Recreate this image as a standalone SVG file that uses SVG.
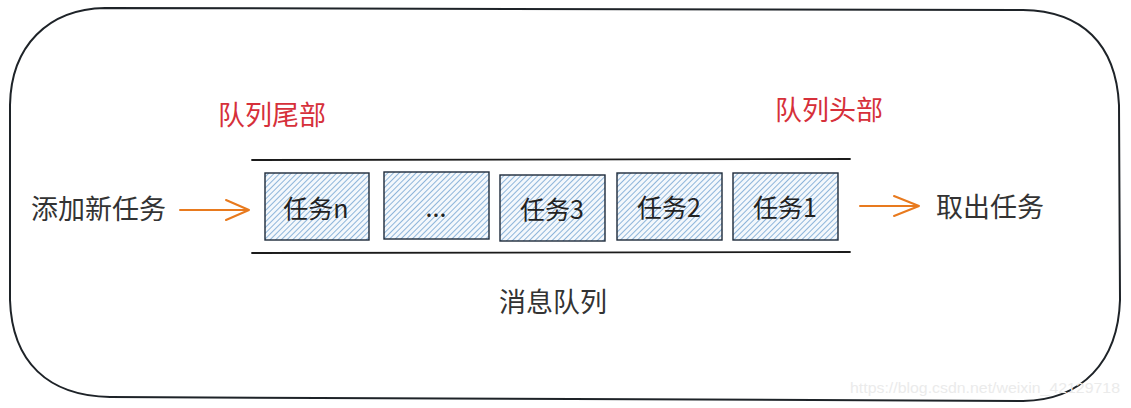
<svg xmlns="http://www.w3.org/2000/svg" width="1131" height="408" viewBox="0 0 1131 408">
  <style>
    .lbl { font-family: "Noto Sans CJK SC", "Noto Sans", sans-serif; fill: #333333; }
    .red { font-family: "Noto Sans CJK SC", "Noto Sans", sans-serif; fill: #d6303a; font-size: 27px; }
    .box { fill: url(#hatch); stroke: #1d2a3a; stroke-width: 1.4; }
    .btxt { font-family: "Noto Sans CJK SC", "Noto Sans", sans-serif; fill: #222222; font-size: 25px; text-anchor: middle; }
    .arrow { fill: none; stroke: #e87a1e; stroke-width: 2; stroke-linecap: round; stroke-linejoin: round; }
    .rail { fill: none; stroke: #1b1b1b; stroke-width: 1.8; stroke-linecap: round; }
  </style>
  <defs>
    <pattern id="hatch" patternUnits="userSpaceOnUse" width="4" height="4" patternTransform="rotate(45)">
      <rect width="4" height="4" fill="#f4f8fc"/>
      <line x1="0" y1="0" x2="0" y2="4" stroke="#6c9fcf" stroke-width="1.5"/>
    </pattern>
  </defs>
  <rect width="1131" height="408" fill="#ffffff"/>

  <g id="frame">
    <path d="M105,8 L1023,10 C1082,11 1116,44 1119,105 L1120,300 C1118,362 1082,400 1023,401 L110,397 C48,396 12,362 10,300 L10,105 C11,46 48,9 105,8 Z" fill="none" stroke="#1e2328" stroke-width="2"/>
  </g>

  <g id="labels-red">
    <text class="red" x="218" y="125">队列尾部</text>
    <text class="red" x="775" y="120">队列头部</text>
  </g>

  <g id="queue-rails">
    <path class="rail" d="M252,160 L850,159"/>
    <path class="rail" d="M252,253 L850,252"/>
  </g>

  <g id="task-n">
    <rect class="box" x="265" y="173" width="104" height="67"/>
    <text class="btxt" x="316" y="218">任务n</text>
  </g>
  <g id="task-ellipsis">
    <rect class="box" x="384" y="172" width="105" height="67"/>
    <text class="btxt" x="436" y="217">...</text>
  </g>
  <g id="task-3">
    <rect class="box" x="500" y="175" width="105" height="66"/>
    <text class="btxt" x="552" y="219">任务3</text>
  </g>
  <g id="task-2">
    <rect class="box" x="617" y="173" width="105" height="67"/>
    <text class="btxt" x="669" y="217">任务2</text>
  </g>
  <g id="task-1">
    <rect class="box" x="733" y="173" width="105" height="67"/>
    <text class="btxt" x="785" y="217">任务1</text>
  </g>

  <g id="add-task">
    <text class="lbl" x="31" y="219" font-size="27">添加新任务</text>
  </g>
  <g id="take-task">
    <text class="lbl" x="936" y="217" font-size="27">取出任务</text>
  </g>
  <g id="mq-label">
    <text class="lbl" x="499" y="312" font-size="27">消息队列</text>
  </g>

  <g id="connectors">
    <path class="arrow" d="M180,210 L249,210 M226,200 L249,210 L226,220"/>
    <path class="arrow" d="M860,206 L919,206 M894,196 L919,206 L894,216"/>
  </g>

  <text x="850" y="393" font-family="Liberation Sans, sans-serif" font-size="14" fill="#ebebeb" textLength="270" lengthAdjust="spacingAndGlyphs">https://blog.csdn.net/weixin_42129718</text>
</svg>
